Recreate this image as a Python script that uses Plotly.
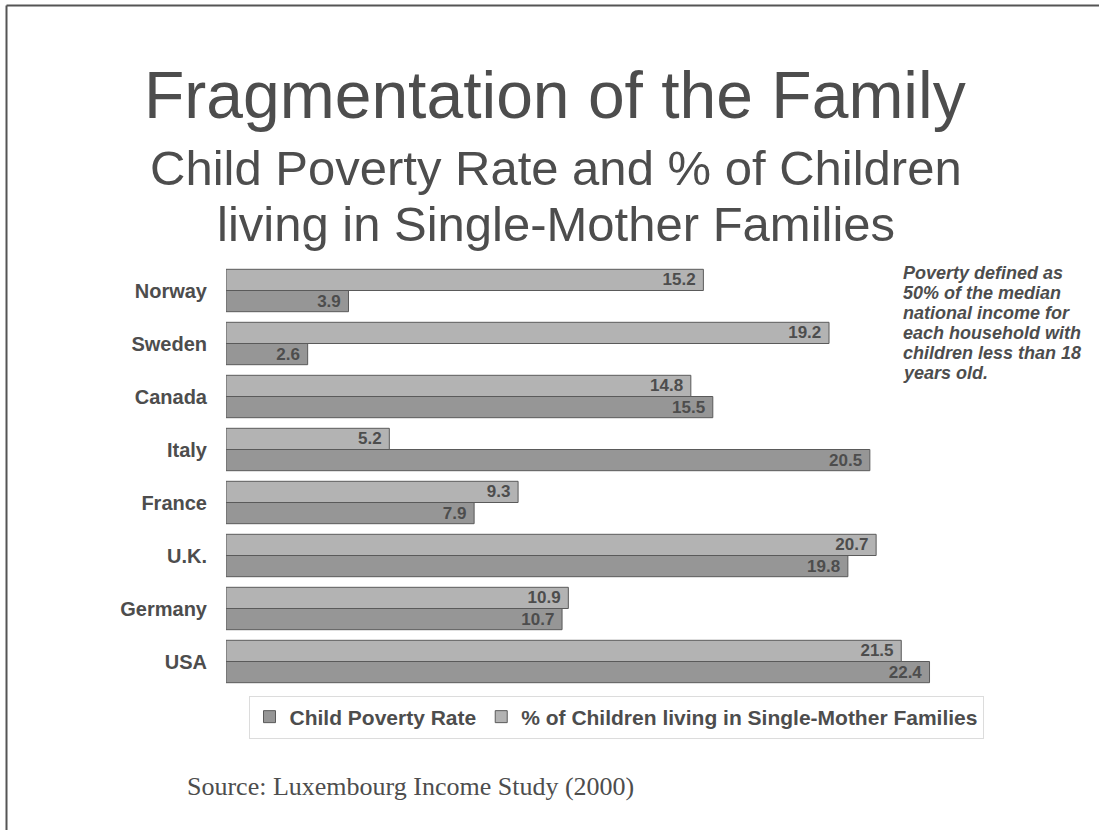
import plotly.graph_objects as go

# Data (Luxembourg Income Study, 2000)
countries = ["Norway", "Sweden", "Canada", "Italy", "France", "U.K.", "Germany", "USA"]
child_poverty = [3.9, 2.6, 15.5, 20.5, 7.9, 19.8, 10.7, 22.4]
single_mother = [15.2, 19.2, 14.8, 5.2, 9.3, 20.7, 10.9, 21.5]

title_text = "Fragmentation of the Family"
subtitle_lines = ["Child Poverty Rate and % of Children",
                  "living in Single-Mother Families"]
note_lines = ["Poverty defined as", "50% of the median", "national income for",
              "each household with", "children less than 18", "years old."]
source_text = "Source: Luxembourg Income Study (2000)"

W, H = 1099, 830
L, R, T, B = 226, 25, 264, 142
PW, PH = W - L - R, H - T - B

def px_x(p):
    return (p - L) / PW

def px_y(p):
    return 1 - (p - T) / PH

SANS = "Liberation Sans, Arial, sans-serif"
TXT = "#4d4d4d"
DARK = "#969696"
LIGHT = "#b3b3b3"
EDGE = "#5a5a5a"

# value labels sit just inside the bar end, with a small gap after the number
def labels(values):
    return [f"{v:.1f}\u00a0" for v in values]

fig = go.Figure()
fig.add_trace(go.Bar(
    y=countries, x=child_poverty, orientation="h", name="Child Poverty Rate",
    marker=dict(color=DARK, line=dict(color=EDGE, width=1)),
    text=labels(child_poverty), textposition="inside",
    insidetextanchor="end", textangle=0,
    textfont=dict(family=SANS, size=17, color=TXT, weight="bold"),
))
fig.add_trace(go.Bar(
    y=countries, x=single_mother, orientation="h",
    name="% of Children living in Single-Mother Families",
    marker=dict(color=LIGHT, line=dict(color=EDGE, width=1)),
    text=labels(single_mother), textposition="inside",
    insidetextanchor="end", textangle=0,
    textfont=dict(family=SANS, size=17, color=TXT, weight="bold"),
))

fig.update_layout(
    width=W, height=H,
    margin=dict(l=L, r=R, t=T, b=B, pad=0),
    paper_bgcolor="white", plot_bgcolor="white",
    barmode="group", bargap=0.2, bargroupgap=0,
    uniformtext=dict(mode="show", minsize=17),
    showlegend=True,
    legend=dict(
        orientation="h", x=px_x(616), y=px_y(717), xanchor="center", yanchor="middle",
        font=dict(family=SANS, size=21, color=TXT, weight="bold"),
        bgcolor="white", bordercolor="#dcdcdc", borderwidth=1,
        itemwidth=30, traceorder="normal",
    ),
    xaxis=dict(range=[0, 27], visible=False, fixedrange=True),
    yaxis=dict(
        categoryorder="array", categoryarray=countries[::-1],
        showgrid=False, zeroline=False, showline=False, ticks="",
        ticklabelstandoff=18,
        tickfont=dict(family=SANS, size=20, color=TXT, weight="bold"),
    ),
)

annotations = [
    dict(text=title_text, x=px_x(555), y=px_y(95), xref="paper", yref="paper",
         xanchor="center", yanchor="middle", showarrow=False,
         font=dict(family=SANS, size=66, color=TXT)),
]
for line, cy in zip(subtitle_lines, [168, 224]):
    annotations.append(dict(text=line, x=px_x(556), y=px_y(cy), xref="paper", yref="paper",
                            xanchor="center", yanchor="middle", showarrow=False,
                            font=dict(family=SANS, size=49, color=TXT)))
for i, line in enumerate(note_lines):
    annotations.append(dict(text=line, x=px_x(901), y=px_y(273 + 20 * i), xref="paper",
                            yref="paper", xanchor="left", yanchor="middle", showarrow=False,
                            font=dict(family=SANS, size=18, color=TXT, weight="bold",
                                      style="italic")))
annotations.append(dict(text=source_text, x=px_x(185), y=px_y(786), xref="paper", yref="paper",
                        xanchor="left", yanchor="middle", showarrow=False,
                        font=dict(family="Liberation Serif, Times New Roman, serif", size=26,
                                  color=TXT)))
fig.update_layout(annotations=annotations)

# Slide frame along the top and left edges
fig.add_shape(type="line", xref="paper", yref="paper",
              x0=px_x(6.5), x1=px_x(W + 5), y0=px_y(5.5), y1=px_y(5.5),
              line=dict(color="#555555", width=2))
fig.add_shape(type="line", xref="paper", yref="paper",
              x0=px_x(6.5), x1=px_x(6.5), y0=px_y(5.5), y1=px_y(H + 5),
              line=dict(color="#555555", width=2))

fig.write_html("out.html")
